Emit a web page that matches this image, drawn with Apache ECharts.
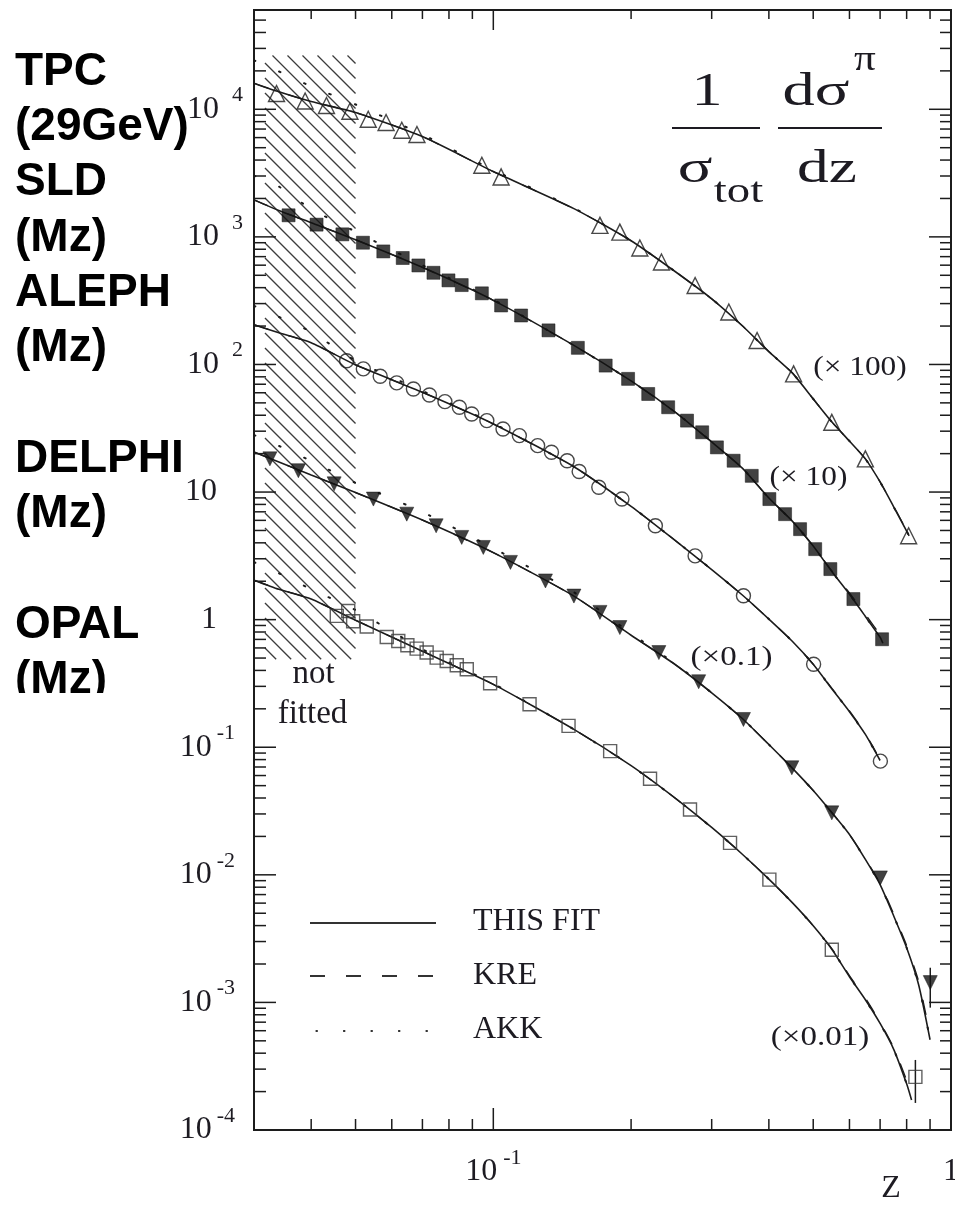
<!DOCTYPE html>
<html>
<head>
<meta charset="utf-8">
<script src="https://cdn.jsdelivr.net/npm/echarts@6/dist/echarts.min.js"></script>
<style>
  html, body { margin: 0; padding: 0; background: #ffffff; }
  #chart { width: 955px; height: 1206px; }
</style>
</head>
<body>
<div id="chart"></div>
<script>
// ---- axis ranges ----
const X_MIN = 0.03, X_MAX = 1;
const Y_MIN = 1e-4, Y_MAX = 6e4;

// ---- measured pion spectra (values already multiplied by the factor shown) ----
// TPC at 29 GeV (x100)
const TPC_Z = [0.0336, 0.0388, 0.0432, 0.0486, 0.0533, 0.0583, 0.0631, 0.0681, 0.0944, 0.104, 0.171, 0.189, 0.209, 0.233, 0.276, 0.327, 0.377, 0.453, 0.549, 0.650, 0.808];
const TPC_V = [13300, 11600, 10700, 9660, 8360, 7870, 6850, 6340, 3640, 2950, 1230, 1090, 818, 635, 416, 258, 154, 84.4, 35.2, 18.2, 4.54];
// SLD at Mz (x10)
const SLD_Z = [0.0357, 0.0411, 0.0468, 0.0519, 0.0575, 0.0634, 0.0686, 0.0740, 0.0798, 0.0853, 0.0944, 0.104, 0.115, 0.132, 0.153, 0.176, 0.197, 0.218, 0.241, 0.265, 0.286, 0.308, 0.335, 0.367, 0.401, 0.434, 0.468, 0.505, 0.545, 0.612, 0.707];
const SLD_V = [1476, 1247, 1047, 900, 769, 683, 597, 523, 456, 419, 361, 290, 242, 185, 135, 98, 77.1, 58.7, 46.2, 36.3, 29.4, 22.4, 17.6, 13.4, 8.81, 6.71, 5.12, 3.57, 2.49, 1.45, 0.702];
// ALEPH at Mz (x1)
const ALEPH_Z = [0.0478, 0.0520, 0.0566, 0.0615, 0.0669, 0.0725, 0.0784, 0.0843, 0.0897, 0.0968, 0.105, 0.114, 0.125, 0.134, 0.145, 0.154, 0.170, 0.191, 0.226, 0.276, 0.352, 0.501, 0.701];
const ALEPH_V = [107, 92.3, 80.9, 71.7, 64.3, 57.7, 51.1, 46.2, 40.9, 36.3, 31.2, 27.7, 23.1, 20.5, 17.6, 14.5, 10.9, 8.81, 5.44, 3.16, 1.54, 0.447, 0.0778];
// DELPHI at Mz (x0.1)
const DELPHI_Z = [0.0325, 0.0375, 0.0449, 0.0547, 0.0647, 0.0750, 0.0853, 0.0951, 0.109, 0.130, 0.150, 0.171, 0.189, 0.230, 0.281, 0.352, 0.449, 0.549, 0.701, 0.901];
const DELPHI_V = [18.2, 14.7, 11.6, 8.81, 6.71, 5.44, 4.41, 3.68, 2.81, 2.01, 1.53, 1.14, 0.867, 0.552, 0.326, 0.165, 0.069, 0.0306, 0.00946, 0.00143];
// OPAL at Mz (x0.01)
const OPAL_Z = [0.0455, 0.0482, 0.0494, 0.0529, 0.0585, 0.0620, 0.0649, 0.0680, 0.0715, 0.0752, 0.0791, 0.0832, 0.0875, 0.0984, 0.120, 0.146, 0.180, 0.220, 0.269, 0.329, 0.401, 0.549, 0.836];
const OPAL_V = [1.07, 1.17, 0.971, 0.883, 0.731, 0.681, 0.630, 0.593, 0.552, 0.504, 0.474, 0.439, 0.408, 0.317, 0.217, 0.147, 0.0932, 0.0566, 0.0325, 0.0178, 0.00917, 0.00259, 0.000261];

// error bars on the last DELPHI and OPAL points
const ERR_Z = [0.901, 0.836];
const ERR_LO = [0.00091, 0.000163];
const ERR_HI = [0.00187, 0.000354];

// ---- fragmentation-function curves: this fit, KRE, AKK ----
const TPC_CZ  = [0.03, 0.034, 0.04, 0.05, 0.07, 0.1, 0.15, 0.2, 0.25, 0.3, 0.35, 0.4, 0.45, 0.5, 0.55, 0.6, 0.65, 0.7, 0.75, 0.8, 0.81];
const TPC_FIT = [16000, 13700, 11500, 9440, 6110, 3250, 1665, 933, 533, 327, 201, 126, 85.9, 53.7, 35.2, 25.1, 18.2, 12.0, 7.63, 4.94, 4.54];
const TPC_KRE = [16000, 13700, 11500, 9440, 6110, 3250, 1665, 933, 533, 327, 201, 126, 85.9, 53.7, 35.2, 25.1, 18.2, 12.0, 7.70, 5.00, 4.60];
const TPC_AKK = [24200, 19800, 15100, 10900, 6340, 3340, 1680, 933, 533, 327, 201, 126, 85.9, 53.7, 35.2, 25.1, 18.2, 12.0, 7.63, 4.94, 4.54];

const SLD_CZ  = [0.03, 0.034, 0.04, 0.05, 0.07, 0.1, 0.15, 0.2, 0.25, 0.3, 0.35, 0.4, 0.45, 0.5, 0.55, 0.6, 0.65, 0.7, 0.71];
const SLD_FIT = [1950, 1610, 1290, 951, 577, 318, 141, 74.3, 42.2, 24.7, 15.4, 8.97, 5.92, 3.77, 2.36, 1.58, 1.06, 0.728, 0.653];
const SLD_KRE = [1950, 1610, 1290, 951, 577, 318, 141, 74.3, 42.2, 24.7, 15.4, 8.97, 5.92, 3.77, 2.40, 1.62, 1.10, 0.760, 0.690];
const SLD_AKK = [3020, 2480, 1650, 1100, 600, 322, 141, 74.3, 42.2, 24.7, 15.4, 8.97, 5.92, 3.77, 2.36, 1.58, 1.06, 0.728, 0.653];

const ALEPH_CZ  = [0.03, 0.034, 0.04, 0.05, 0.07, 0.1, 0.15, 0.2, 0.25, 0.3, 0.35, 0.4, 0.45, 0.5, 0.55, 0.6, 0.65, 0.7];
const ALEPH_FIT = [205, 177, 148, 99.3, 60.5, 34.2, 15.8, 7.73, 4.16, 2.47, 1.56, 1.01, 0.677, 0.447, 0.285, 0.190, 0.126, 0.0787];
const ALEPH_KRE = [205, 177, 148, 99.3, 60.5, 34.2, 15.8, 7.73, 4.16, 2.47, 1.56, 1.01, 0.677, 0.447, 0.288, 0.193, 0.128, 0.0800];
const ALEPH_AKK = [288, 236, 180, 107, 62.0, 34.5, 15.8, 7.73, 4.16, 2.47, 1.56, 1.01, 0.677, 0.447, 0.285, 0.190, 0.126, 0.0787];

const DELPHI_CZ  = [0.03, 0.034, 0.04, 0.05, 0.07, 0.1, 0.15, 0.2, 0.25, 0.3, 0.35, 0.4, 0.45, 0.5, 0.55, 0.6, 0.65, 0.7, 0.75, 0.8, 0.85, 0.9];
const DELPHI_FIT = [20.6, 17.2, 13.6, 9.91, 6.03, 3.35, 1.53, 0.755, 0.443, 0.267, 0.168, 0.105, 0.0686, 0.0458, 0.0305, 0.0207, 0.0132, 0.00838, 0.00474, 0.00268, 0.00137, 0.00051];
const DELPHI_KRE = [20.6, 17.2, 13.6, 9.91, 6.03, 3.35, 1.53, 0.755, 0.443, 0.267, 0.168, 0.105, 0.0686, 0.0458, 0.0305, 0.0207, 0.0134, 0.00855, 0.00490, 0.00280, 0.00146, 0.00056];
const DELPHI_AKK = [28.0, 23.0, 17.5, 11.8, 6.97, 3.63, 1.64, 0.78, 0.450, 0.267, 0.168, 0.105, 0.0686, 0.0458, 0.0305, 0.0207, 0.0132, 0.00838, 0.00474, 0.00268, 0.00137, 0.00051];

const OPAL_CZ  = [0.03, 0.034, 0.04, 0.05, 0.07, 0.1, 0.15, 0.2, 0.25, 0.3, 0.35, 0.4, 0.45, 0.5, 0.55, 0.6, 0.65, 0.7, 0.75, 0.8, 0.82];
const OPAL_FIT = [2.04, 1.73, 1.45, 0.989, 0.565, 0.311, 0.138, 0.0718, 0.0398, 0.0235, 0.0145, 0.00925, 0.00605, 0.00399, 0.00259, 0.00159, 0.00105, 0.000684, 0.000427, 0.000230, 0.000172];
const OPAL_KRE = [2.04, 1.73, 1.45, 0.989, 0.565, 0.311, 0.138, 0.0718, 0.0398, 0.0235, 0.0145, 0.00925, 0.00605, 0.00399, 0.00262, 0.00162, 0.00108, 0.000700, 0.000440, 0.000245, 0.000185];
const OPAL_AKK = [2.82, 2.31, 1.73, 1.19, 0.586, 0.315, 0.138, 0.0718, 0.0398, 0.0235, 0.0145, 0.00925, 0.00605, 0.00399, 0.00259, 0.00159, 0.00105, 0.000684, 0.000427, 0.000230, 0.000172];

// region excluded from the fit (z < 0.05)
const NOT_FITTED_Z = [0.0317, 0.05];
const NOT_FITTED_V = [0.49, 26400];

// ---- text ----
const EXPERIMENT_LABELS = ['TPC', '(29GeV)', 'SLD', '(Mz)', 'ALEPH', '(Mz)', '', 'DELPHI', '(Mz)', '', 'OPAL', '(Mz)'];
const SCALE_LABELS = ['(\u00d7 100)', '(\u00d7 10)', '(\u00d70.1)', '(\u00d70.01)'];
const LEGEND_LABELS = ['THIS FIT', 'KRE', 'AKK'];

// ---- styling ----
const INK = '#1c1c1c';
const LABEL_INK = '#1d1b22';
const SERIF = 'Liberation Serif';
const DASH_KRE = [15, 21];
const DOT_AKK = [1.6, 25.9];

const pairs = (xs, ys) => xs.map((x, i) => [x, ys[i]]);

const EXPERIMENTS = [
  { name: 'TPC',    z: TPC_Z,    v: TPC_V,    cz: TPC_CZ,    fit: TPC_FIT,    kre: TPC_KRE,    akk: TPC_AKK,    symbol: 'triangle', size: 16, filled: false, rotate: 0 },
  { name: 'SLD',    z: SLD_Z,    v: SLD_V,    cz: SLD_CZ,    fit: SLD_FIT,    kre: SLD_KRE,    akk: SLD_AKK,    symbol: 'rect',     size: 13, filled: true,  rotate: 0 },
  { name: 'ALEPH',  z: ALEPH_Z,  v: ALEPH_V,  cz: ALEPH_CZ,  fit: ALEPH_FIT,  kre: ALEPH_KRE,  akk: ALEPH_AKK,  symbol: 'circle',   size: 14, filled: false, rotate: 0 },
  { name: 'DELPHI', z: DELPHI_Z, v: DELPHI_V, cz: DELPHI_CZ, fit: DELPHI_FIT, kre: DELPHI_KRE, akk: DELPHI_AKK, symbol: 'triangle', size: 14, filled: true,  rotate: 180 },
  { name: 'OPAL',   z: OPAL_Z,   v: OPAL_V,   cz: OPAL_CZ,   fit: OPAL_FIT,   kre: OPAL_KRE,   akk: OPAL_AKK,   symbol: 'rect',     size: 13, filled: false, rotate: 0 }
];

// ---- tick positions (decade subdivisions) ----
const TICKS = [];
for (let d = -2; d <= 0; d++) {
  for (let k = 1; k <= 9; k++) {
    const v = k * Math.pow(10, d);
    if (v > X_MIN * 1.001 && v < X_MAX * 0.999) TICKS.push([v, 1, 0, k === 1 ? 1 : 0]);
  }
}
for (let d = -4; d <= 4; d++) {
  for (let k = 1; k <= 9; k++) {
    const v = k * Math.pow(10, d);
    if (v > Y_MIN * 1.001 && v < Y_MAX * 0.999) TICKS.push([0.1, v, 1, k === 1 ? 1 : 0]);
  }
}

function renderTick(params, api) {
  const cs = params.coordSys;
  const major = api.value(3) === 1;
  const style = { stroke: INK, lineWidth: 1.5 };
  if (api.value(2) === 0) {
    const px = api.coord([api.value(0), 1])[0];
    const len = major ? 22 : 11;
    return { type: 'group', children: [
      { type: 'line', shape: { x1: px, y1: cs.y + cs.height, x2: px, y2: cs.y + cs.height - len }, style },
      { type: 'line', shape: { x1: px, y1: cs.y, x2: px, y2: cs.y + (major ? 20 : 9) }, style }
    ] };
  }
  const py = api.coord([0.1, api.value(1)])[1];
  const len = major ? 22 : 12;
  return { type: 'group', children: [
    { type: 'line', shape: { x1: cs.x, y1: py, x2: cs.x + len, y2: py }, style },
    { type: 'line', shape: { x1: cs.x + cs.width, y1: py, x2: cs.x + cs.width - (major ? 22 : 11), y2: py }, style }
  ] };
}

function renderHatch(params, api) {
  const tl = api.coord([api.value(0), api.value(3)]);
  const br = api.coord([api.value(2), api.value(1)]);
  const x0 = tl[0], y0 = tl[1], x1 = br[0], y1 = br[1];
  const step = 15, phase = 8;
  const children = [];
  // diagonal strokes y = x + c, falling to the right
  const cStart = Math.ceil((y0 - x1 - phase) / step) * step + phase;
  for (let c = cStart; c <= y1 - x0; c += step) {
    const xs = Math.max(x0, y0 - c);
    const xe = Math.min(x1, y1 - c);
    if (xe - xs < 0.5) continue;
    children.push({ type: 'line', shape: { x1: xs, y1: xs + c, x2: xe, y2: xe + c },
      style: { stroke: '#3c3c3c', lineWidth: 1.3 } });
  }
  return { type: 'group', children };
}

function renderError(params, api) {
  const hi = api.coord([api.value(0), api.value(2)]);
  const lo = api.coord([api.value(0), api.value(1)]);
  return { type: 'line', shape: { x1: hi[0], y1: hi[1], x2: lo[0], y2: lo[1] },
    style: { stroke: INK, lineWidth: 1.5 } };
}

// powers of ten as "10" with a raised exponent
function powerLabel(v, isX) {
  const lg = Math.log10(v);
  const e = Math.round(lg);
  if (Math.abs(lg - e) > 1e-6) return '';
  if (e === 0) return isX ? '{b|1}' : '{b|1}{s| }';
  if (e === 1) return '{b|10}{s| }';
  if (e > 1) return '{b|10}{p|' + e + '}';
  return '{b|10}{' + (isX ? 'q' : 'n') + '|' + e + '}';
}
const RICH = {
  b: { fontFamily: SERIF, fontSize: 32, lineHeight: 32, padding: [14, 0, 14, 0], color: LABEL_INK },
  p: { fontFamily: SERIF, fontSize: 22, lineHeight: 22, padding: [5, 0, 33, 13], color: LABEL_INK },
  n: { fontFamily: SERIF, fontSize: 22, lineHeight: 22, padding: [5, 8, 33, 5], color: LABEL_INK },
  q: { fontFamily: SERIF, fontSize: 22, lineHeight: 22, padding: [5, 0, 33, 6], color: LABEL_INK },
  s: { fontFamily: SERIF, fontSize: 22, lineHeight: 22, width: 26, padding: [5, 0, 33, 0], color: LABEL_INK }
};

// ---- series ----
const CURVE_SMOOTH = 0.2;
const series = [];
series.push({
  type: 'custom', name: 'not fitted', renderItem: renderHatch, silent: true, z: 1,
  encode: { x: [0, 2], y: [1, 3] },
  data: [[NOT_FITTED_Z[0], NOT_FITTED_V[0], NOT_FITTED_Z[1], NOT_FITTED_V[1]]]
});
EXPERIMENTS.forEach(ex => {
  series.push({
    type: 'line', name: ex.name + ' THIS FIT', data: pairs(ex.cz, ex.fit),
    showSymbol: false, smooth: CURVE_SMOOTH, silent: true, z: 3,
    lineStyle: { color: INK, width: 1.6 }
  });
  series.push({
    type: 'line', name: ex.name + ' KRE', data: pairs(ex.cz, ex.kre),
    showSymbol: false, smooth: CURVE_SMOOTH, silent: true, z: 3,
    lineStyle: { color: INK, width: 1.3, type: DASH_KRE }
  });
  series.push({
    type: 'line', name: ex.name + ' AKK', data: pairs(ex.cz, ex.akk),
    showSymbol: false, smooth: CURVE_SMOOTH, silent: true, z: 3,
    lineStyle: { color: INK, width: 2, type: DOT_AKK, cap: 'round' }
  });
  series.push({
    type: 'scatter', name: ex.name, data: pairs(ex.z, ex.v), silent: true, z: 4,
    symbol: ex.symbol, symbolSize: ex.size, symbolRotate: ex.rotate,
    itemStyle: ex.filled
      ? { color: '#111111', borderColor: '#111111', borderWidth: 0.6 }
      : { color: 'rgba(255,255,255,0)', borderColor: ex.name === 'OPAL' ? '#3a3a3a' : '#1a1a1a', borderWidth: 1.4 }
  });
});
series.push({
  type: 'custom', name: 'errors', renderItem: renderError, silent: true, z: 4,
  encode: { x: 0, y: [1, 2] },
  data: ERR_Z.map((z, i) => [z, ERR_LO[i], ERR_HI[i]])
});
series.push({
  type: 'custom', name: 'ticks', renderItem: renderTick, silent: true, z: 6,
  encode: { x: 0, y: 1 }, data: TICKS
});

// ---- annotations ----
function txt(x, y, text, font, opts) {
  return Object.assign({
    type: 'text', x, y, z: 10, silent: true,
    style: Object.assign({ text, font, fill: LABEL_INK, textAlign: 'center', textVerticalAlign: 'middle',
      align: 'center', verticalAlign: 'middle' }, (opts && opts.style) || {})
  }, opts && opts.el ? opts.el : {});
}
const FORMULA_FONT = '46px "Liberation Serif"';
const graphics = [
  // experiment names down the left edge
  { type: 'text', x: 15, y: 44.5, z: 10, silent: true,
    style: { text: EXPERIMENT_LABELS.join('\n'), font: 'bold 46px "Liberation Sans"', fill: '#000000',
      lineHeight: 55.3, textAlign: 'left', textVerticalAlign: 'top', align: 'left', verticalAlign: 'top' } },
  { type: 'rect', z: 11, silent: true, shape: { x: 0, y: 693, width: 246, height: 22 }, style: { fill: '#ffffff' } },

  // 1/sigma_tot  d sigma^pi / dz
  txt(707, 93, '1', FORMULA_FONT, { el: { scaleX: 1.35 } }),
  { type: 'line', z: 10, silent: true, shape: { x1: 672, y1: 128, x2: 760, y2: 128 }, style: { stroke: LABEL_INK, lineWidth: 2 } },
  txt(695, 169.5, '\u03c3', FORMULA_FONT, { el: { scaleX: 1.4 } }),
  txt(738.5, 193, 'tot', '36px "Liberation Serif"', { el: { scaleX: 1.3 } }),
  txt(816, 93, 'd\u03c3', FORMULA_FONT, { el: { scaleX: 1.4 } }),
  txt(865, 61, '\u03c0', '36px "Liberation Serif"', { el: { scaleX: 1.2 } }),
  { type: 'line', z: 10, silent: true, shape: { x1: 778, y1: 128, x2: 882, y2: 128 }, style: { stroke: LABEL_INK, lineWidth: 2 } },
  txt(827, 169.5, 'dz', FORMULA_FONT, { el: { scaleX: 1.38 } }),

  // scale factors beside each curve
  txt(860, 368, SCALE_LABELS[0], '28px "Liberation Serif"', { el: { scaleX: 1.12 } }),
  txt(808.5, 478, SCALE_LABELS[1], '28px "Liberation Serif"', { el: { scaleX: 1.12 } }),
  txt(731.5, 658, SCALE_LABELS[2], '28px "Liberation Serif"', { el: { scaleX: 1.18 } }),
  txt(820, 1038, SCALE_LABELS[3], '28px "Liberation Serif"', { el: { scaleX: 1.18 } }),

  // label for the hatched band
  txt(313.5, 674, 'not', '33px "Liberation Serif"'),
  txt(312.5, 714, 'fitted', '33px "Liberation Serif"'),

  // legend
  { type: 'line', z: 10, silent: true, shape: { x1: 310, y1: 923, x2: 436, y2: 923 }, style: { stroke: '#333333', lineWidth: 1.8 } },
  { type: 'line', z: 10, silent: true, shape: { x1: 310, y1: 976, x2: 437, y2: 976 }, style: { stroke: '#333333', lineWidth: 1.8, lineDash: DASH_KRE } },
  { type: 'line', z: 10, silent: true, shape: { x1: 315.6, y1: 1031, x2: 428, y2: 1031 }, style: { stroke: '#333333', lineWidth: 2.2, lineDash: [2.2, 25.3] } },
  txt(473, 922, LEGEND_LABELS[0], '32px "Liberation Serif"', { style: { textAlign: 'left', align: 'left' } }),
  txt(473, 976, LEGEND_LABELS[1], '32px "Liberation Serif"', { style: { textAlign: 'left', align: 'left' } }),
  txt(473, 1030, LEGEND_LABELS[2], '32px "Liberation Serif"', { style: { textAlign: 'left', align: 'left' } }),

  // x-axis variable
  txt(891, 1189, 'Z', '32px "Liberation Serif"')
];

const chart = echarts.init(document.getElementById('chart'), null, { renderer: 'canvas' });
chart.setOption({
  animation: false,
  backgroundColor: '#ffffff',
  grid: {
    left: 254, top: 10, width: 697, height: 1120,
    containLabel: false, outerBoundsMode: 'none',
    show: true, borderColor: INK, borderWidth: 2, backgroundColor: 'rgba(0,0,0,0)'
  },
  xAxis: {
    type: 'log', logBase: 10, min: X_MIN, max: X_MAX,
    axisLine: { show: false }, axisTick: { show: false }, splitLine: { show: false },
    axisLabel: { margin: 26, formatter: v => powerLabel(v, true), rich: RICH }
  },
  yAxis: {
    type: 'log', logBase: 10, min: Y_MIN, max: Y_MAX, splitNumber: 9,
    axisLine: { show: false }, axisTick: { show: false }, splitLine: { show: false },
    axisLabel: { margin: 11, formatter: v => powerLabel(v, false), rich: RICH }
  },
  series,
  graphic: graphics
});
</script>
</body>
</html>
